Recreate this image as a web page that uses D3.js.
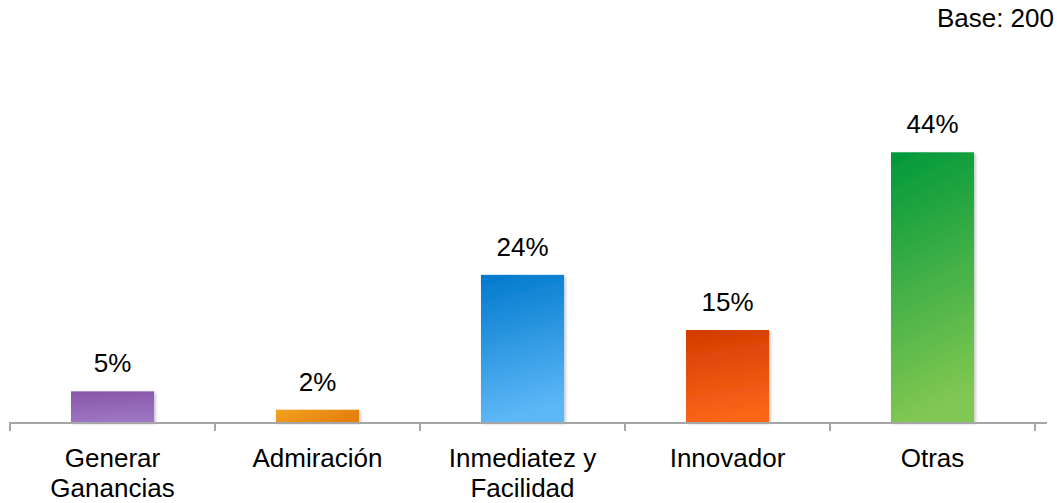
<!DOCTYPE html>
<html>
<head>
<meta charset="utf-8">
<script src="https://cdn.jsdelivr.net/npm/d3@7"></script>
<style>
  body { margin: 0; background: #fff; }
  svg text { font-family: "Liberation Sans", Arial, sans-serif; fill: #000; }
</style>
</head>
<body>
<div id="chart"></div>
<script>
const categories = ["Generar Ganancias", "Admiración", "Inmediatez y Facilidad", "Innovador", "Otras"];
const values = [5, 2, 24, 15, 44];
const topColors = ["#8856a7", "#f2a21f", "#0079cc", "#d23b00", "#00983a"];
const bottomColors = ["#9d75c2", "#e6800e", "#5db7f7", "#fa6519", "#80c752"];

const width = 1057, height = 503;
const svg = d3.select("#chart")
    .append("svg")
    .attr("width", width)
    .attr("height", height);

const defs = svg.append("defs");
categories.forEach((c, i) => {
    const g = defs.append("linearGradient")
        .attr("id", "grad" + i)
        .attr("x1", 0).attr("y1", 0)
        .attr("x2", i === 1 ? 1 : 0.15).attr("y2", i === 1 ? 0.3 : 1);
    g.append("stop").attr("offset", "0%").attr("stop-color", topColors[i]);
    g.append("stop").attr("offset", "100%").attr("stop-color", bottomColors[i]);
});
const shadow = defs.append("filter").attr("id", "shadow")
    .attr("x", "-20%").attr("y", "-20%").attr("width", "140%").attr("height", "140%");
shadow.append("feDropShadow")
    .attr("dx", 1.5).attr("dy", 1.5).attr("stdDeviation", 1.8)
    .attr("flood-color", "#000").attr("flood-opacity", 0.25);

const baseY = 422;
const x = d3.scaleBand().domain(categories).range([10, 1035]).paddingInner(0.595).paddingOuter(0.2975);
const y = d3.scaleLinear().domain([0, 50]).range([baseY, baseY - 306.5]);

// Bars
svg.selectAll("rect.bar")
    .data(values)
    .enter()
    .append("rect")
    .attr("class", "bar")
    .attr("x", (d, i) => x(categories[i]))
    .attr("y", d => y(d))
    .attr("width", x.bandwidth())
    .attr("height", d => baseY - y(d))
    .attr("fill", (d, i) => `url(#grad${i})`)
    .attr("filter", "url(#shadow)");

// Value labels
svg.selectAll("text.val")
    .data(values)
    .enter()
    .append("text")
    .attr("class", "val")
    .attr("x", (d, i) => x(categories[i]) + x.bandwidth() / 2)
    .attr("y", d => y(d) - 19)
    .attr("text-anchor", "middle")
    .style("font-size", "26px")
    .text(d => d + "%");

// Axis
const step = x.step();
const axis = svg.append("g");
axis.append("line")
    .attr("x1", 10).attr("x2", 1047)
    .attr("y1", baseY + 1).attr("y2", baseY + 1)
    .attr("stroke", "#a6a6a6").attr("stroke-width", 2);
d3.range(categories.length + 1).forEach(k => {
    axis.append("line")
        .attr("x1", 10 + k * step).attr("x2", 10 + k * step)
        .attr("y1", baseY).attr("y2", baseY + 9)
        .attr("stroke", "#a6a6a6").attr("stroke-width", 2);
});

// Category labels (wrapped)
const labelLines = [["Generar", "Ganancias"], ["Admiración"], ["Inmediatez y", "Facilidad"], ["Innovador"], ["Otras"]];
labelLines.forEach((lines, i) => {
    const t = svg.append("text")
        .attr("text-anchor", "middle")
        .style("font-size", "26px");
    lines.forEach((ln, j) => {
        t.append("tspan")
            .attr("x", x(categories[i]) + x.bandwidth() / 2)
            .attr("y", 467 + j * 30)
            .text(ln);
    });
});

svg.append("text")
    .attr("x", 1054)
    .attr("y", 27)
    .attr("text-anchor", "end")
    .style("font-size", "26px")
    .text("Base: 200");
</script>
</body>
</html>
